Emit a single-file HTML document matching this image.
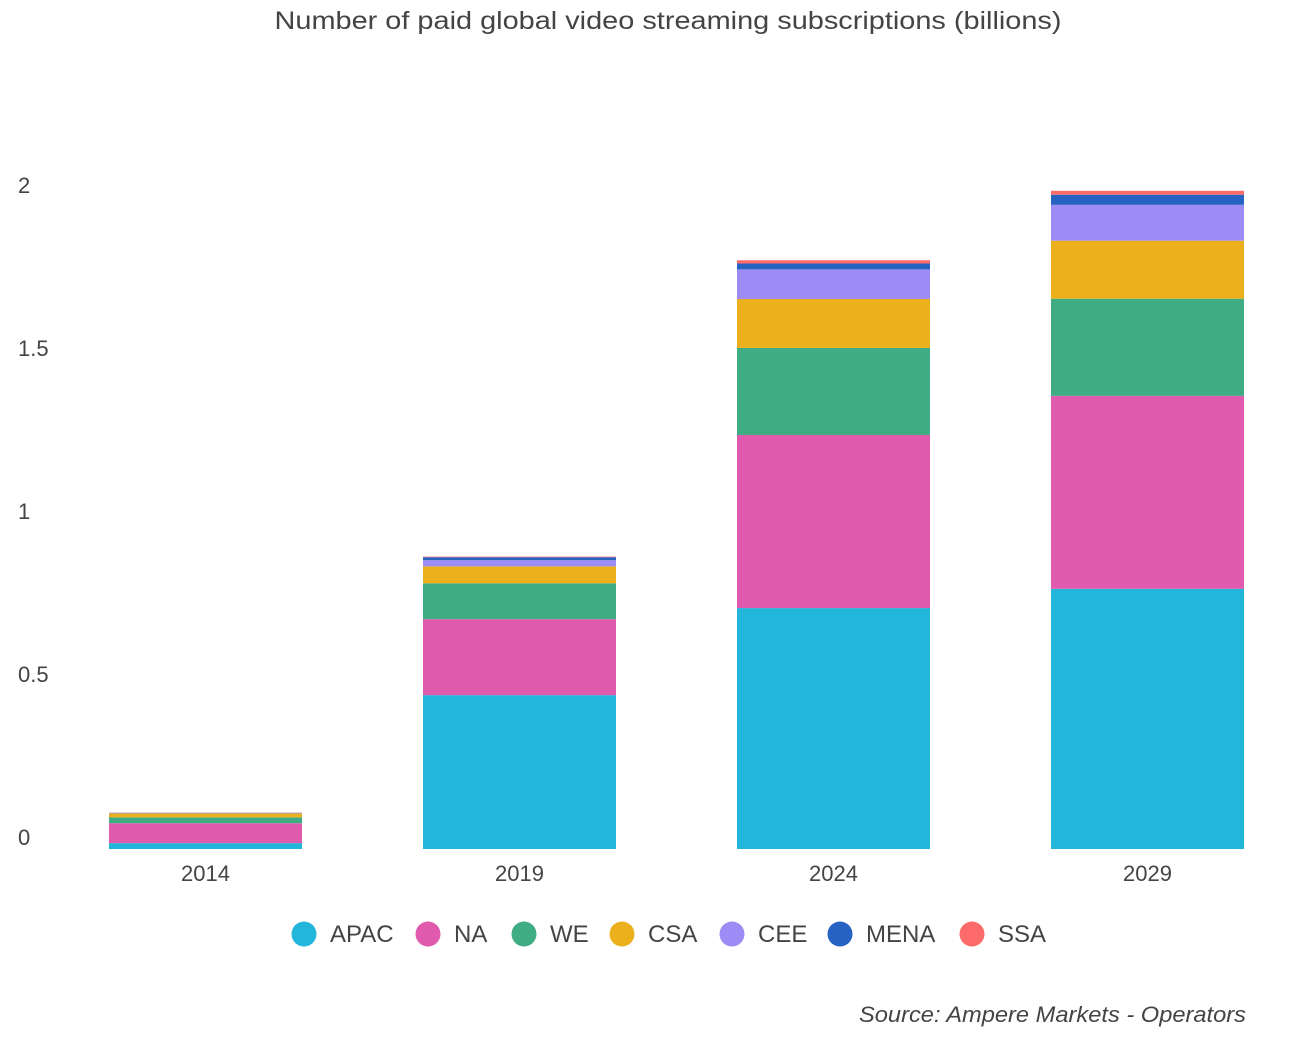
<!DOCTYPE html>
<html><head><meta charset="utf-8"><style>
body{margin:0;background:#fff;font-family:"Liberation Sans",sans-serif;}
svg{display:block}
text{font-family:"Liberation Sans",sans-serif;fill:#444}
</style></head><body>
<svg id="chart" width="1296" height="1037">
<text x="668" y="29" font-size="25" text-anchor="middle" textLength="787" lengthAdjust="spacingAndGlyphs">Number of paid global video streaming subscriptions (billions)</text>
<g id="yaxis"></g><g id="bars"></g><g id="xaxis"></g><g id="legend"></g>
<text x="1246" y="1022" font-size="22" font-style="italic" text-anchor="end" textLength="387" lengthAdjust="spacingAndGlyphs">Source: Ampere Markets - Operators</text>
</svg>
<script>
const categories=["2014","2019","2024","2029"];
const series=["APAC","NA","WE","CSA","CEE","MENA","SSA"];
const colors=["#22b7da","#e05aae","#3fac84","#edb01d","#9d8cf5","#2662c2","#fd6b6b"];
const APAC=[0.018,0.472,0.739,0.798];
const NA=[0.061,0.233,0.531,0.592];
const WE=[0.018,0.110,0.267,0.298];
const CSA=[0.012,0.052,0.150,0.178];
const CEE=[0.001,0.019,0.091,0.110];
const MENA=[0.001,0.009,0.018,0.031];
const SSA=[0.0005,0.002,0.010,0.012];
const yTicks=[0,0.5,1,1.5,2];
const yTickLabels=["0","0.5","1","1.5","2"];
const values=[APAC,NA,WE,CSA,CEE,MENA,SSA];
const NS="http://www.w3.org/2000/svg";
const y=v=>849-v*326;
const xc=i=>205.5+i*314;
const bw=193;
function mk(tag,attrs,parent){const e=document.createElementNS(NS,tag);for(const k in attrs)e.setAttribute(k,attrs[k]);parent.appendChild(e);return e;}
const ya=document.getElementById('yaxis');
yTicks.forEach((t,i)=>{const e=mk('text',{x:18,y:y(t)-4,'font-size':22},ya);e.textContent=yTickLabels[i];

});
const bg=document.getElementById('bars');
categories.forEach((c,i)=>{let acc=0;
values.forEach((s,j)=>{const v=s[i];const r=mk('rect',{x:xc(i)-bw/2,y:y(acc+v),width:bw,height:v*326,fill:colors[j]},bg);

acc+=v;});
const t=mk('text',{x:xc(i),y:881,'font-size':22,'text-anchor':'middle'},document.getElementById('xaxis'));t.textContent=c;

});
const lg=document.getElementById('legend');
const lx=[330,454,550,648,758,866,998];
series.forEach((s,j)=>{const g=mk('g',{},lg);


mk('circle',{cx:lx[j]-26,cy:934,r:12.5,fill:colors[j]},g);
const t=mk('text',{x:lx[j],y:942,'font-size':24},g);t.textContent=s;});
</script>
</body></html>
